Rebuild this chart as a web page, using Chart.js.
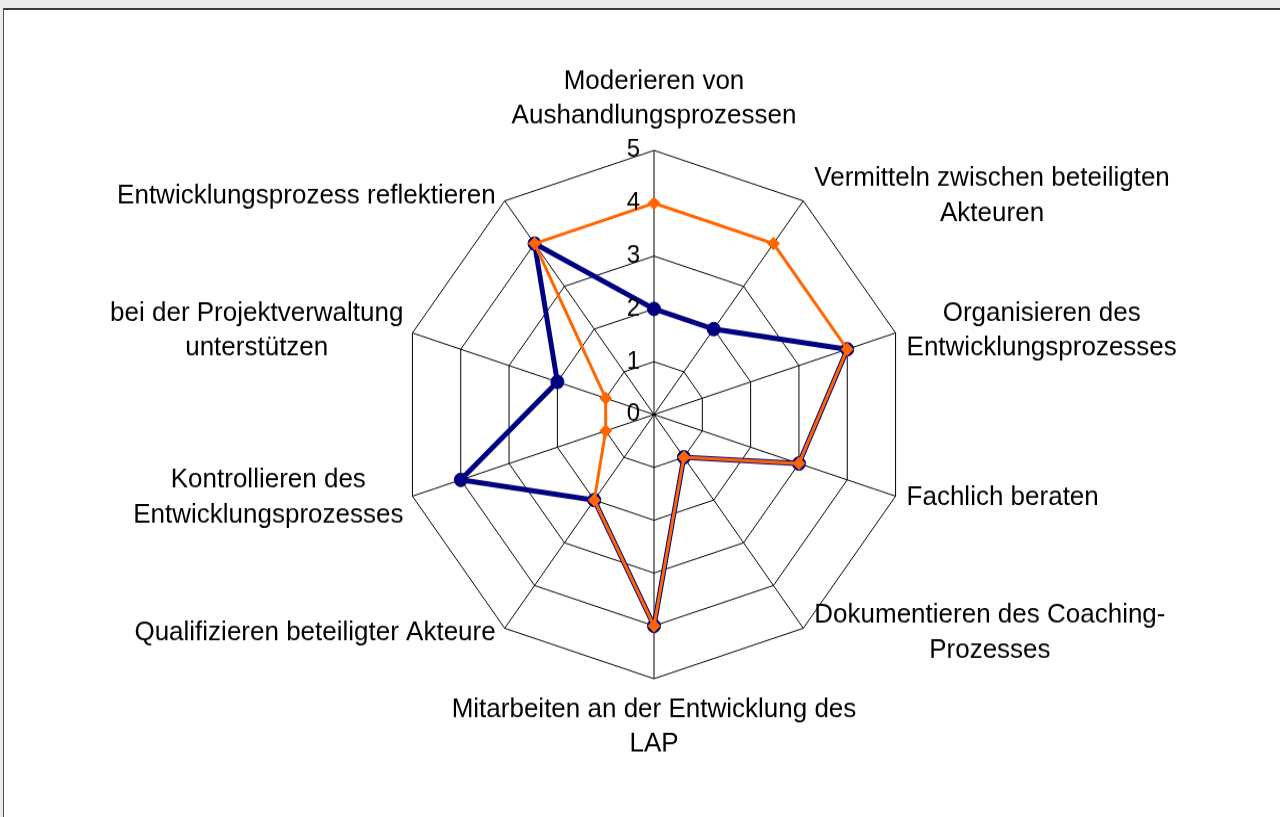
<!DOCTYPE html>
<html>
<head>
<meta charset="utf-8">
<script src="https://cdn.jsdelivr.net/npm/chart.js@4.4.1/dist/chart.umd.min.js"></script>
<style>
  html, body { margin: 0; padding: 0; background: #ebebeb; overflow: hidden; }
  #frame {
    position: absolute; left: 3px; top: 8px; width: 1300px; height: 830px;
    background: #fff; border-top: 2px solid #3c3c3c; border-left: 1px solid #555;
  }
  #c { position: absolute; left: 0; top: 0; }
</style>
</head>
<body>
<div id="frame">
  <canvas id="c" width="1276" height="776" style="width:1276px;height:807px;"></canvas>
</div>
<script>
// categories (line breaks as in the original chart)
const categories = [
  ["Moderieren von", "Aushandlungsprozessen"],
  ["Vermitteln zwischen beteiligten", "Akteuren"],
  ["Organisieren des", "Entwicklungsprozesses"],
  ["Fachlich beraten"],
  ["Dokumentieren des Coaching-", "Prozesses"],
  ["Mitarbeiten an der Entwicklung des", "LAP"],
  ["Qualifizieren beteiligter Akteure"],
  ["Kontrollieren des", "Entwicklungsprozesses"],
  ["bei der Projektverwaltung", "unterstützen"],
  ["Entwicklungsprozess reflektieren"]
];
const orangeValues = [4, 4, 4, 3, 1, 4, 2, 1, 1, 4];
const blueValues   = [2, 2, 4, 3, 1, 4, 2, 4, 2, 4];
const tickMin = 0;
const tickMax = 5;
const tickStep = 1;

// the original plot is slightly taller than wide
const STRETCH = 807 / 776;
const FONT = '"Liberation Sans", Arial, sans-serif';

// tick numbers left of the vertical axis + centred multi-line category labels
const axisText = {
  id: 'axisText',
  afterDraw(chart) {
    const scale = chart.scales.r;
    const ctx = chart.ctx;
    ctx.save();
    ctx.scale(1, 1 / STRETCH);
    ctx.fillStyle = '#000';
    ctx.textBaseline = 'middle';

    ctx.font = '24px ' + FONT;
    ctx.textAlign = 'right';
    scale.ticks.forEach(t => {
      const p = scale.getPointPositionForValue(0, t.value);
      ctx.fillText(String(t.value), p.x - 14, p.y * STRETCH);
    });

    ctx.font = '26px ' + FONT;
    ctx.textAlign = 'center';
    const lh = 35;
    categories.forEach((lines, i) => {
      const v = scale.getPointPosition(i, scale.drawingArea);
      const vx = v.x, vy = v.y * STRETCH;
      const ang = i * 2 * Math.PI / categories.length;
      const sin = Math.sin(ang), cos = Math.cos(ang);
      const w = Math.max(...lines.map(l => ctx.measureText(l).width));
      const h = lines.length * lh;
      let cx, top;
      if (Math.abs(sin) < 0.01) {
        cx = vx;
        top = cos > 0 ? vy - 34 - h + lh / 2 : vy + 31 - lh / 2;
      } else {
        cx = sin > 0 ? vx + 11 + w / 2 : vx - 9 - w / 2;
        top = vy - 6 * cos - h / 2;
      }
      lines.forEach((l, j) => ctx.fillText(l, cx, top + lh * j + lh / 2));
    });
    ctx.restore();
  }
};

new Chart(document.getElementById('c'), {
  type: 'radar',
  data: {
    labels: categories.map(l => l.join(' ')),
    datasets: [
      {
        label: 'Reihe2',
        data: orangeValues,
        borderColor: '#ff6600',
        backgroundColor: '#ff6600',
        borderWidth: 3,
        fill: false,
        pointStyle: 'rectRot',
        pointRadius: 6.5,
        pointBorderWidth: 0,
        pointBackgroundColor: '#ff6600'
      },
      {
        label: 'Reihe1',
        data: blueValues,
        borderColor: '#000080',
        backgroundColor: '#000080',
        borderWidth: 5,
        fill: false,
        pointStyle: 'circle',
        pointRadius: 6.5,
        pointBorderWidth: 1,
        pointBorderColor: '#000080',
        pointBackgroundColor: '#000080'
      }
    ]
  },
  options: {
    responsive: false,
    animation: false,
    layout: { padding: { left: 396, right: 372, top: 135, bottom: 133 } },
    plugins: {
      legend: { display: false },
      tooltip: { enabled: false }
    },
    scales: {
      r: {
        min: tickMin,
        max: tickMax,
        ticks: { stepSize: tickStep, display: false },
        grid: { color: '#000', lineWidth: 1 },
        angleLines: { color: '#000', lineWidth: 1 },
        pointLabels: { display: false }
      }
    }
  },
  plugins: [axisText]
});
</script>
</body>
</html>
